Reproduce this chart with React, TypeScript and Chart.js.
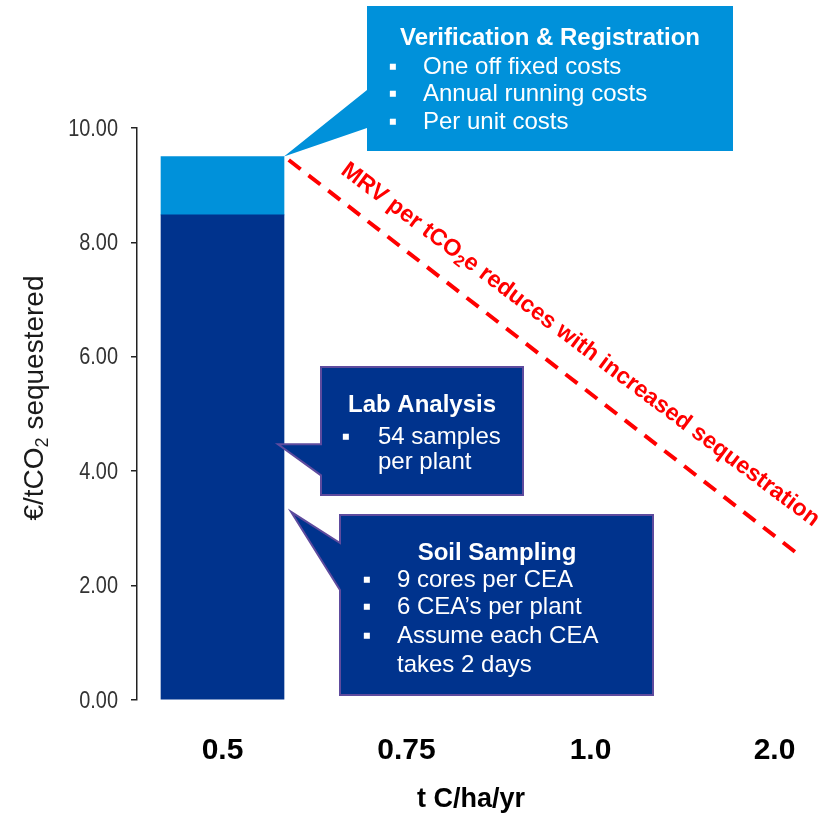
import { useEffect, useRef } from 'react';
import { Chart, registerables } from 'chart.js';

Chart.register(...registerables);

// Sequestration rate categories (t C/ha/yr)
const categories = ['0.5', '0.75', '1.0', '2.0'];
// €/tCO2 for soil sampling + lab analysis
const samplingAndLab = [8.48, null, null, null];
// €/tCO2 for verification & registration
const verification = [1.02, null, null, null];
// y axis range / step and its tick values
const yMin = 0;
const yMax = 10;
const yStep = 2;
const yTickValues = [0, 2, 4, 6, 8, 10];
// dashed MRV trend line end points (x in category index units, y in €/tCO2)
const trendX = [0.36, 3.14];
const trendY = [9.44, 2.52];

const SANS = '"Liberation Sans", Arial, Helvetica, sans-serif';
const DARK = '#00338D';
const LIGHT = '#0091DA';
const EDGE = '#5E4B9E';
const RED = '#FF0000';

type Pt = [number, number];

function calloutShape(
  ctx: CanvasRenderingContext2D,
  l: number, t: number, r: number, b: number,
  attachTop: number, tip: Pt, attachBottom: number,
  fill: string, stroke: string | null,
) {
  ctx.beginPath();
  ctx.moveTo(l, t);
  ctx.lineTo(r, t);
  ctx.lineTo(r, b);
  ctx.lineTo(l, b);
  ctx.lineTo(l, attachBottom);
  ctx.lineTo(tip[0], tip[1]);
  ctx.lineTo(l, attachTop);
  ctx.closePath();
  ctx.fillStyle = fill;
  ctx.fill();
  if (stroke) {
    ctx.lineWidth = 2;
    ctx.strokeStyle = stroke;
    ctx.lineJoin = 'miter';
    ctx.stroke();
  }
}

function drawParts(
  ctx: CanvasRenderingContext2D,
  parts: { text: string; font: string; dy: number }[],
  startX: number,
) {
  let cx = startX;
  for (const p of parts) {
    ctx.font = p.font;
    ctx.fillText(p.text, cx, p.dy);
    cx += ctx.measureText(p.text).width;
  }
}

function partsWidth(ctx: CanvasRenderingContext2D, parts: { text: string; font: string }[]) {
  let w = 0;
  for (const p of parts) {
    ctx.font = p.font;
    w += ctx.measureText(p.text).width;
  }
  return w;
}

const annotations = {
  id: 'annotations',
  afterDraw(chart: any) {
    const { ctx } = chart;
    const x = chart.scales.x;
    const y = chart.scales.y;
    const base = chart.getDatasetMeta(0).data[0];
    const cap = chart.getDatasetMeta(1).data[0];
    const barRight = base.x + base.width / 2;
    const capTop = cap.y;

    ctx.save();

    // condensed y tick labels
    ctx.fillStyle = '#333';
    ctx.font = `24px ${SANS}`;
    ctx.textAlign = 'right';
    ctx.textBaseline = 'middle';
    for (const v of yTickValues) {
      ctx.save();
      ctx.translate(118, y.getPixelForValue(v));
      ctx.scale(0.83, 1);
      ctx.fillText(v.toFixed(2), 0, 1);
      ctx.restore();
    }

    // y axis title with subscript
    ctx.save();
    ctx.translate(43, 398);
    ctx.rotate(-Math.PI / 2);
    ctx.fillStyle = '#1a1a1a';
    ctx.textAlign = 'left';
    ctx.textBaseline = 'alphabetic';
    const yParts = [
      { text: '€/tCO', font: `28px ${SANS}`, dy: 0 },
      { text: '2', font: `18px ${SANS}`, dy: 5 },
      { text: ' sequestered', font: `28px ${SANS}`, dy: 0 },
    ];
    drawParts(ctx, yParts, -partsWidth(ctx, yParts) / 2);
    ctx.restore();

    // x axis title
    ctx.fillStyle = '#000';
    ctx.font = `bold 27px ${SANS}`;
    ctx.textAlign = 'center';
    ctx.textBaseline = 'alphabetic';
    ctx.fillText('t C/ha/yr', 471, 807);

    // label along the MRV trend line
    const p0x = x.getPixelForValue(trendX[0]);
    const p0y = y.getPixelForValue(trendY[0]);
    ctx.save();
    ctx.translate(p0x + 51, p0y + 13);
    ctx.rotate((36.8 * Math.PI) / 180);
    ctx.fillStyle = RED;
    ctx.textAlign = 'left';
    drawParts(ctx, [
      { text: 'MRV per tCO', font: `bold 23.4px ${SANS}`, dy: 0 },
      { text: '2', font: `bold 16px ${SANS}`, dy: 4 },
      { text: 'e reduces with increased sequestration', font: `bold 23.4px ${SANS}`, dy: 0 },
    ], 0);
    ctx.restore();

    // Verification & Registration callout
    calloutShape(ctx, 367, 6, 733, 151, 90, [barRight, capTop], 128, LIGHT, null);
    // Lab Analysis callout
    const labTipY = y.getPixelForValue(4.47);
    calloutShape(ctx, 321, 367, 523, 495, labTipY, [barRight - 6, labTipY], labTipY + 31, DARK, EDGE);
    // Soil Sampling callout
    const soilTipY = y.getPixelForValue(3.29);
    calloutShape(ctx, 340, 515, 653, 695, 543, [barRight + 7, soilTipY], 590, DARK, EDGE);

    ctx.fillStyle = '#fff';
    ctx.textBaseline = 'alphabetic';
    const heading = (txt: string, cx: number, by: number) => {
      ctx.font = `bold 24px ${SANS}`;
      ctx.textAlign = 'center';
      ctx.fillText(txt, cx, by);
    };
    const line = (txt: string, tx: number, by: number, bulletX: number | null) => {
      ctx.font = `24px ${SANS}`;
      if (bulletX !== null) {
        ctx.textAlign = 'center';
        ctx.fillText('▪', bulletX, by);
      }
      ctx.textAlign = 'left';
      ctx.fillText(txt, tx, by);
    };

    heading('Verification & Registration', 550, 45);
    line('One off fixed costs', 423, 74, 393);
    line('Annual running costs', 423, 101, 393);
    line('Per unit costs', 423, 129, 393);

    heading('Lab Analysis', 422, 412);
    line('54 samples', 378, 444, 346);
    line('per plant', 378, 469, null);

    heading('Soil Sampling', 497, 560);
    line('9 cores per CEA', 397, 587, 367);
    line('6 CEA’s per plant', 397, 614, 367);
    line('Assume each CEA', 397, 643, 367);
    line('takes 2 days', 397, 672, null);

    ctx.restore();
  },
};

export default function App() {
  const ref = useRef<HTMLCanvasElement | null>(null);

  useEffect(() => {
    document.body.style.margin = '0';
    document.body.style.overflow = 'hidden';
    const canvas = ref.current;
    if (!canvas) return;

    const toPoints = (vals: (number | null)[]) =>
      vals.map((v, i) => ({ x: i, y: v })).filter((p) => p.y !== null);

    const chart = new Chart(canvas, {
      type: 'bar',
      data: {
        datasets: [
          {
            label: 'Soil sampling & lab analysis',
            data: toPoints(samplingAndLab) as any,
            backgroundColor: DARK,
            borderWidth: 0,
            barThickness: 123,
          },
          {
            label: 'Verification & registration',
            data: toPoints(verification) as any,
            backgroundColor: LIGHT,
            borderWidth: 0,
            barThickness: 123,
          },
          {
            type: 'line',
            label: 'MRV per tCO2e',
            data: trendX.map((v, i) => ({ x: v, y: trendY[i] })) as any,
            borderColor: RED,
            borderWidth: 4,
            borderDash: [15, 10],
            pointRadius: 0,
            fill: false,
            tension: 0,
          } as any,
        ],
      },
      plugins: [annotations],
      options: {
        responsive: false,
        animation: false,
        layout: { padding: { top: 128, right: 10, left: 0, bottom: 0 } },
        plugins: {
          legend: { display: false },
          tooltip: { enabled: false },
          title: { display: false },
        },
        scales: {
          x: {
            type: 'linear',
            offset: false,
            stacked: true,
            min: -0.4647,
            max: 3.2745,
            afterBuildTicks: (scale: any) => {
              scale.ticks = categories.map((_, i) => ({ value: i }));
            },
            afterFit: (scale: any) => {
              scale.height = 113;
            },
            grid: { display: false },
            border: { display: false },
            ticks: {
              autoSkip: false,
              maxRotation: 0,
              padding: 25,
              color: '#000',
              font: { family: SANS, size: 30, weight: 'bold' },
              callback: (v: any) => categories[v] ?? '',
            },
          },
          y: {
            stacked: true,
            min: yMin,
            max: yMax,
            afterFit: (scale: any) => {
              scale.width = 137;
            },
            grid: {
              drawOnChartArea: false,
              drawTicks: true,
              tickLength: 6,
              color: '#222',
              lineWidth: 1.5,
            },
            border: { display: true, color: '#222', width: 1.5 },
            ticks: {
              stepSize: yStep,
              display: false,
            },
          },
        },
      } as any,
    });

    return () => chart.destroy();
  }, []);

  return (
    <div style={{ width: 835, height: 813 }}>
      <canvas ref={ref} width={835} height={813} style={{ display: 'block' }} />
    </div>
  );
}
